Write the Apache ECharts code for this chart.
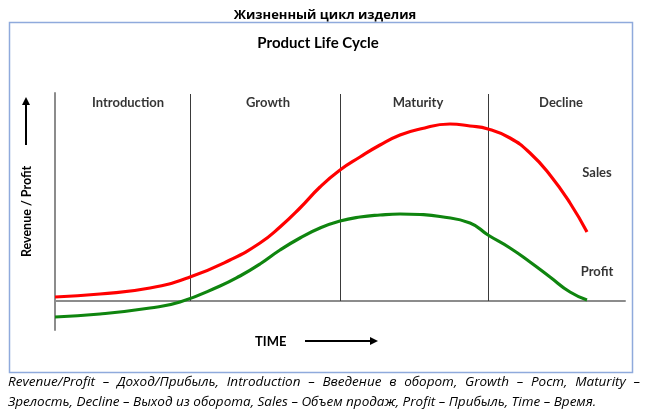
<!DOCTYPE html>
<html>
<head>
<meta charset="utf-8">
<script src="https://cdn.jsdelivr.net/npm/echarts@6/dist/echarts.min.js"></script>
<style>html,body{margin:0;padding:0;background:#fff}#c{width:645px;height:416px}</style>
</head>
<body>
<div id="c"></div>
<script>
// ---- data ----
var salesX = [0, 45, 95, 135, 175, 205, 225, 245, 265, 285, 305, 325, 345, 365, 395, 415, 433, 455, 475, 495, 515, 532];
var salesY = [4, 7, 13, 24, 41, 58, 74, 93, 114, 131, 144, 156, 166, 172, 177, 175, 172, 163, 148, 126, 98, 69];
var profitX = [0, 45, 95, 125, 165, 185, 205, 225, 245, 265, 285, 305, 325, 345, 365, 385, 415, 433, 455, 475, 495, 515, 532];
var profitY = [-16, -13, -7, -1, 15, 25, 37, 51, 63, 73, 80, 84, 86, 87, 86.5, 84.5, 78, 66, 53, 39, 24, 9, 1];
var phaseBounds = [135, 285, 433];
var phaseNames = ['Introduction', 'Growth', 'Maturity', 'Decline'];
var phaseCenters = [73, 213, 363, 506];
var phaseLabelY = 198;
var seriesLabels = [['Sales', 542, 128], ['Profit', 542, 29]];
var caption1 = 'Revenue/Profit – Доход/Прибыль, Introduction – Введение в оборот, Growth – Рост, Maturity –';
var caption2 = 'Зрелость, Decline – Выход из оборота, Sales – Объем продаж, Profit – Прибыль, Time – Время.';

function zip(xs, ys) { return xs.map(function (x, i) { return [x, ys[i]]; }); }

var LAT = 'Lato, "Open Sans", sans-serif';
var CAPFONT = 'italic 13.5px "Open Sans", sans-serif';
var ctx = document.createElement('canvas').getContext('2d');
ctx.font = CAPFONT;
function justified(text, x0, x1, top, justify) {
  var words = text.split(' ');
  var widths = words.map(function (w) { return ctx.measureText(w).width; });
  var total = widths.reduce(function (a, b) { return a + b; }, 0);
  var gap = justify ? (x1 - x0 - total) / (words.length - 1) : ctx.measureText(' ').width;
  var x = x0, out = [];
  words.forEach(function (w, i) {
    out.push({type: 'text', left: x, top: top, style: {text: w, font: CAPFONT, fill: '#000'}, silent: true});
    x += widths[i] + gap;
  });
  return out;
}

var chart = echarts.init(document.getElementById('c'), null, {renderer: 'canvas'});
var option = {
  animation: false,
  backgroundColor: '#fff',
  title: [
    {text: 'Жизненный цикл изделия', left: 320, top: 4, textAlign: 'center',
      textStyle: {fontFamily: '"Open Sans", sans-serif', fontWeight: 'bold', fontSize: 13, color: '#000'}},
    {text: 'Product Life Cycle', left: 313, top: 31, textAlign: 'center',
      textStyle: {fontFamily: LAT, fontWeight: 'bold', fontSize: 15, color: '#000'}}
  ],
  grid: {left: 55, right: 20, top: 93, bottom: 86},
  xAxis: {type: 'value', min: 0, max: 570, splitLine: {show: false}, axisTick: {show: false}, axisLabel: {show: false},
    axisLine: {show: true, onZero: true, lineStyle: {color: '#8c8c8c', width: 2}}},
  yAxis: {type: 'value', min: -29, max: 208, splitLine: {show: false}, axisTick: {show: false}, axisLabel: {show: false},
    axisLine: {show: true, lineStyle: {color: '#8c8c8c', width: 2}},
    name: 'Revenue / Profit', nameLocation: 'middle', nameRotate: 90, nameGap: 22,
    nameTextStyle: {fontFamily: LAT, fontSize: 12.5, color: '#000', fontWeight: 'bold'}},
  series: [
    {type: 'line', name: 'Sales', data: zip(salesX, salesY), smooth: 0.5, showSymbol: false,
      lineStyle: {color: '#ff0000', width: 3.2}, z: 5,
      markLine: {silent: true, symbol: 'none', label: {show: false},
        lineStyle: {color: '#3a3a3a', width: 1, type: 'solid'},
        data: phaseBounds.map(function (b) { return [{coord: [b, 207]}, {coord: [b, 0]}]; })}},
    {type: 'line', name: 'Profit', data: zip(profitX, profitY), smooth: 0.5, showSymbol: false,
      lineStyle: {color: '#0f850f', width: 3.2}, z: 5},
    {type: 'scatter', symbolSize: 0, silent: true,
      data: phaseNames.map(function (n, i) { return {value: [phaseCenters[i], phaseLabelY], name: n}; })
        .concat(seriesLabels.map(function (s) { return {value: [s[1], s[2]], name: s[0]}; })),
      label: {show: true, position: 'inside', formatter: '{b}', fontFamily: LAT, fontWeight: 'bold', fontSize: 13, color: '#000'}}
  ],
  graphic: [
    {type: 'rect', shape: {x: 9.5, y: 22.5, width: 623, height: 350}, style: {fill: null, stroke: '#8faadc', lineWidth: 1.5}, silent: true},
    {type: 'line', shape: {x1: 26, y1: 145, x2: 26, y2: 103}, style: {stroke: '#000', lineWidth: 2}},
    {type: 'polygon', shape: {points: [[26, 97], [22, 105], [30, 105]]}, style: {fill: '#000'}},
    {type: 'text', left: 255, top: 335, style: {text: 'TIME', font: 'bold 13px ' + LAT, fill: '#000'}},
    {type: 'line', shape: {x1: 305, y1: 341, x2: 372, y2: 341}, style: {stroke: '#000', lineWidth: 2}},
    {type: 'polygon', shape: {points: [[378, 341], [370, 337], [370, 345]]}, style: {fill: '#000'}}
  ].concat(justified(caption1, 8, 640, 375, true)).concat(justified(caption2, 8, 640, 395, false))
};
chart.setOption(option);
</script>
</body>
</html>
